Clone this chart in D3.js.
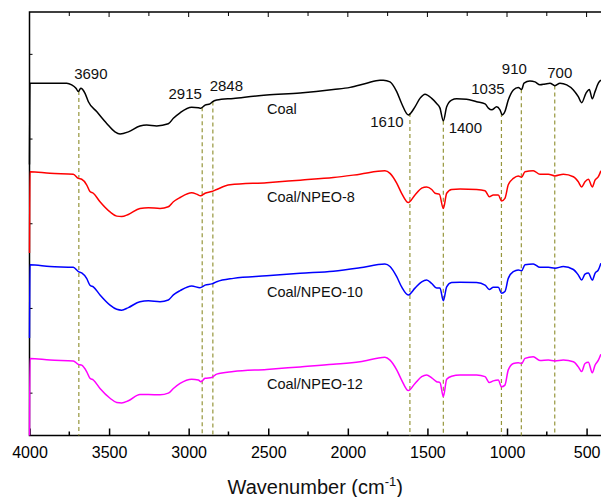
<!DOCTYPE html>
<html>
<head>
<meta charset="utf-8">
<script src="https://cdn.jsdelivr.net/npm/d3@7"></script>
<style>
  body { margin: 0; background: #fff; }
  svg { display: block; font-family: "Liberation Sans", Arial, sans-serif; }
</style>
</head>
<body>
<div id="chart"></div>
<script>
// wavenumber ticks (cm-1)
const wnTicks = [4000, 3500, 3000, 2500, 2000, 1500, 1000, 500];
const wnMinor = [3750, 3250, 2750, 2250, 1750, 1250, 750];
const yMinor = [10, 30, 50, 70, 90];

const peakMarks = [3690, 2915, 2848, 1610, 1400, 1035, 910, 700];
const seriesNames = ["Coal", "Coal/NPEO-8", "Coal/NPEO-10", "Coal/NPEO-12"];

// transmittance (a.u., stacked)
const coal = [[4000,64],[3997,83.2],[3871,83.2],[3766,83.2],[3735,82.8],[3708,82.0],[3693,81.2],[3678,82.0],
  [3651,80.8],[3630,78.8],[3578,76.5],[3515,73.7],[3463,71.7],[3431,71.2],[3379,71.7],[3306,73.1],[3264,73.3],
  [3201,73.1],[3128,73.6],[3096,74.9],[3054,76.2],[2981,77.5],[2939,77.4],[2923,77.3],[2897,78.0],[2866,78.3],
  [2851,78.8],[2824,79.2],[2719,79.6],[2510,80.4],[2300,80.9],[2091,81.7],[1986,82.2],[1882,83.2],[1798,83.9],
  [1777,83.9],[1735,83.5],[1693,81.2],[1662,78.4],[1620,75.7],[1578,77.6],[1547,79.6],[1515,80.6],[1473,79.6],
  [1442,78.4],[1421,77.3],[1400,74.3],[1379,77.6],[1348,79.2],[1316,79.5],[1254,79.4],[1191,78.8],[1138,78.3],
  [1117,77.3],[1096,76.9],[1065,77.6],[1044,76.9],[1029,75.7],[1013,76.5],[992,79.2],[960,81.6],[929,82.2],
  [908,81.7],[893,83.2],[856,83.7],[824,83.5],[793,82.8],[761,83.0],[730,83.2],[699,82.6],[667,83.2],[625,82.8],
  [583,81.6],[552,80.0],[531,78.6],[504,80.8],[483,81.7],[464,79.5],[447,81.2],[426,83.2],[410,83.9]];

const npeo8 = [[4000,43.1],[3997,62.3],[3871,61.9],[3725,61.7],[3693,60.7],[3672,60.5],[3641,59.2],[3620,57.6],
  [3599,57.2],[3557,55.2],[3494,52.8],[3452,51.8],[3421,51.7],[3379,52.2],[3306,53.6],[3253,53.8],[3180,53.6],
  [3128,54.0],[3096,55.2],[3054,56.2],[2981,57.3],[2950,57.0],[2925,56.6],[2897,57.2],[2855,57.6],[2824,58.1],
  [2740,59.2],[2510,59.7],[2300,60.3],[2091,60.9],[1924,61.7],[1767,62.5],[1735,61.9],[1693,59.6],[1662,57.2],
  [1620,55.0],[1578,56.8],[1536,58.4],[1505,58.7],[1473,58.1],[1452,57.2],[1425,57.0],[1400,53.6],[1379,57.2],
  [1348,58.1],[1295,58.2],[1191,58.1],[1138,57.8],[1111,56.4],[1086,56.8],[1055,56.8],[1034,55.4],[1013,56.0],
  [992,59.2],[960,60.7],[929,61.3],[908,61.0],[887,62.3],[835,62.5],[793,61.7],[740,61.7],[699,61.3],[646,61.7],
  [583,61.1],[552,59.9],[531,58.7],[510,59.9],[489,60.5],[464,58.7],[447,60.3],[426,61.1],[410,62.5]];

const npeo10 = [[4000,23.0],[3997,40.3],[3871,39.9],[3725,39.7],[3693,38.7],[3672,38.4],[3641,37.1],[3620,35.5],
  [3599,35.1],[3557,33.2],[3494,30.8],[3452,29.8],[3421,29.6],[3379,30.2],[3306,31.6],[3253,31.8],[3180,31.6],
  [3128,32.0],[3096,33.2],[3054,34.2],[2981,35.3],[2929,34.9],[2897,35.5],[2855,35.8],[2824,36.3],[2719,37.1],
  [2510,37.7],[2300,38.3],[2091,38.8],[1924,39.6],[1767,40.5],[1735,39.9],[1693,37.5],[1662,35.1],[1620,33.2],
  [1578,34.8],[1536,36.3],[1505,36.7],[1473,35.9],[1442,34.8],[1421,34.8],[1400,31.8],[1379,35.1],[1348,36.1],
  [1295,36.2],[1191,36.1],[1138,35.5],[1111,34.5],[1086,35.0],[1055,35.0],[1034,33.6],[1013,34.0],[992,37.1],
  [960,38.7],[929,39.1],[908,38.9],[887,40.3],[835,40.5],[793,39.7],[740,39.7],[699,39.5],[646,39.9],[583,39.2],
  [552,37.9],[531,36.7],[510,38.1],[489,38.4],[464,36.7],[447,38.3],[426,39.1],[410,40.7]];

const npeo12 = [[4000,0],[3997,18.2],[3871,17.8],[3725,17.6],[3693,16.8],[3672,16.6],[3641,15.1],[3620,13.5],
  [3599,13.1],[3557,11.1],[3494,8.8],[3452,7.8],[3421,7.7],[3379,8.2],[3306,9.7],[3253,9.7],[3180,9.6],
  [3128,10.0],[3096,11.1],[3054,12.3],[2981,13.3],[2939,13.1],[2923,12.7],[2897,13.5],[2855,13.7],[2824,14.5],
  [2719,15.1],[2510,15.6],[2300,16.2],[2091,16.8],[1924,17.4],[1767,18.5],[1735,17.8],[1693,15.5],[1662,13.1],
  [1620,10.6],[1578,12.3],[1536,13.9],[1505,14.3],[1473,13.6],[1442,12.7],[1421,12.5],[1400,9.2],[1379,13.3],
  [1348,14.0],[1295,14.3],[1191,14.3],[1138,13.9],[1111,12.5],[1086,12.9],[1055,13.1],[1034,11.5],[1013,11.9],
  [992,15.5],[960,17.0],[929,17.2],[908,17.0],[887,18.2],[835,18.6],[793,17.7],[740,17.8],[699,17.6],[646,17.8],
  [583,17.4],[552,16.2],[531,15.1],[510,17.0],[489,17.3],[464,14.8],[447,16.6],[426,17.8],[410,19.2]];

const seriesData = [coal, npeo8, npeo10, npeo12];
const colors = ["#000000", "#ff0000", "#0000ff", "#ff00ff"];

const width = 601;
const height = 497;
const margin = { top: 12, left: 29.5, bottom: 61.5 };

const svg = d3.select("#chart")
  .append("svg")
  .attr("width", width)
  .attr("height", height);

const x = d3.scaleLinear()
  .domain([4000, 400])
  .range([margin.left, 602.5]);

const y = d3.scaleLinear()
  .domain([0, 100])
  .range([height - margin.bottom, margin.top]);

const x0 = x.range()[0], x1 = x.range()[1];
const yb = y.range()[0], yt = y.range()[1];

// frame
svg.append("path")
  .attr("d", `M${x1},${yt}H${x0}V${yb}H${x1}`)
  .attr("fill", "none")
  .attr("stroke", "#000")
  .attr("stroke-width", 1.5);

// bottom ticks + labels
const gx = svg.append("g")
  .attr("transform", `translate(0,${yb})`)
  .call(d3.axisBottom(x).tickValues(wnTicks).tickFormat(d3.format("d"))
    .tickSizeInner(-7).tickSizeOuter(0).tickPadding(11))
  .attr("font-size", "16px")
  .attr("font-family", "\"Liberation Sans\", Arial, sans-serif");
gx.select(".domain").remove();
gx.selectAll("line").attr("stroke-width", 1.5);
gx.selectAll("text").attr("fill", "#000");

svg.append("g").selectAll("line")
  .data(wnMinor)
  .join("line")
  .attr("x1", d => x(d)).attr("x2", d => x(d))
  .attr("y1", yb).attr("y2", yb - 4)
  .attr("stroke", "#000").attr("stroke-width", 1.5);

// top ticks
svg.append("g").selectAll("line")
  .data(wnTicks.concat(wnMinor))
  .join("line")
  .attr("x1", d => x(d)).attr("x2", d => x(d))
  .attr("y1", yt).attr("y2", d => yt + (wnTicks.includes(d) ? 5 : 4))
  .attr("stroke", "#000").attr("stroke-width", 1);

// left ticks
svg.append("g").selectAll("line")
  .data(yMinor)
  .join("line")
  .attr("x1", x0).attr("x2", x0 + 3)
  .attr("y1", d => y(d)).attr("y2", d => y(d))
  .attr("stroke", "#000").attr("stroke-width", 1);

// dashed guide lines from the Coal curve down to the axis
const bis = d3.bisector(d => -d[0]).left;
function coalAt(wn) {
  const i = bis(coal, -wn);
  const a = coal[Math.max(i - 1, 0)], b = coal[Math.min(i, coal.length - 1)];
  if (a[0] === b[0]) return a[1];
  const t = (a[0] - wn) / (a[0] - b[0]);
  return a[1] + t * (b[1] - a[1]);
}

svg.append("g").selectAll("line")
  .data(peakMarks)
  .join("line")
  .attr("x1", d => x(d)).attr("x2", d => x(d))
  .attr("y1", d => y(coalAt(d))).attr("y2", yb)
  .attr("stroke", "#96963c")
  .attr("stroke-width", 1.2)
  .attr("stroke-dasharray", "4,3");

// spectra
const line = d3.line()
  .x(d => x(d[0]))
  .y(d => y(d[1]))
  .curve(d3.curveMonotoneX);

svg.append("g").selectAll("path")
  .data(seriesData)
  .join("path")
  .attr("d", line)
  .attr("fill", "none")
  .attr("stroke", (d, i) => colors[i])
  .attr("stroke-width", 1.5)
  .attr("stroke-linejoin", "round");

// peak labels (offsets from the top of each guide line)
const peakOffsets = [[12, -12.4], [-17, -8], [13.5, -10.7], [-23, 14], [22, 12], [-13.5, -18.7], [-7, -15], [5, -8]];
svg.append("g").selectAll("text")
  .data(peakMarks)
  .join("text")
  .attr("x", (d, i) => x(d) + peakOffsets[i][0])
  .attr("y", (d, i) => y(coalAt(d)) + peakOffsets[i][1])
  .attr("text-anchor", "middle")
  .attr("font-size", "15px")
  .attr("fill", "#111")
  .text(d => d);

// series names
const labelWn = 2508;
const labelY = [75.9, 55.2, 32.8, 11.0];
svg.append("g").selectAll("text")
  .data(seriesNames)
  .join("text")
  .attr("x", x(labelWn))
  .attr("y", (d, i) => y(labelY[i]))
  .attr("font-size", "14.5px")
  .attr("fill", "#111")
  .text(d => d);

// axis title
const title = svg.append("text")
  .attr("x", (x0 + width) / 2)
  .attr("y", 494)
  .attr("text-anchor", "middle")
  .attr("font-size", "20px")
  .attr("fill", "#111");
title.append("tspan").text("Wavenumber (cm");
title.append("tspan").attr("font-size", "13px").attr("dy", "-8").text("-1");
title.append("tspan").attr("dy", "8").text(")");
</script>
</body>
</html>
